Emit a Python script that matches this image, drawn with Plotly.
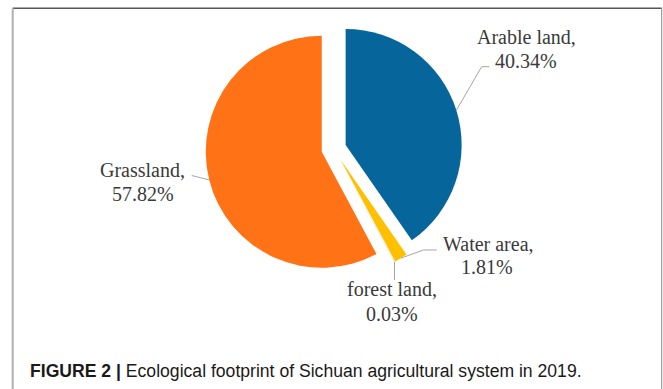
import math
import plotly.graph_objects as go

# Ecological footprint shares (%) of Sichuan's agricultural system, 2019
categories = ["Arable land", "Water area", "forest land", "Grassland"]
shares = [40.34, 1.81, 0.03, 57.82]
slice_colors = ["#06659b", "#ffc000", "#a5a5a5", "#ff7316"]
pulls = [0.107, 0.107, 0.107, 0.107]

W, H = 663, 389
# pie placement in pixels (centre, radius of the un-pulled disc)
cx, cy, r = 333.8, 148.7, 116.0
maxpull = max(pulls)
half = r * (1 + maxpull)


def px(x):
    return x / W


def py(y):
    return 1 - y / H


fig = go.Figure()
fig.add_trace(go.Pie(
    labels=categories,
    values=shares,
    sort=False,
    direction="clockwise",
    rotation=0,
    pull=pulls,
    marker=dict(colors=slice_colors, line=dict(width=0)),
    textinfo="none",
    hoverinfo="label+percent",
    showlegend=False,
    domain=dict(x=[px(cx - half), px(cx + half)],
                y=[py(cy + half), py(cy - half)]),
))

# mid-angle of each slice, clockwise from 12 o'clock
total = sum(shares)
mids = []
acc = 0.0
for v in shares:
    mids.append((acc + v / 2) / total * 360)
    acc += v


def edge_point(i):
    a = math.radians(mids[i])
    d = r * (1 + pulls[i])
    return cx + d * math.sin(a), cy - d * math.cos(a)


# label text positions (pixel centres of each text line)
label_pos = {
    "Arable land": (526, 37, 526, 60.5),
    "Water area": (488, 244, 487, 267),
    "forest land": (392, 289, 392, 314),
    "Grassland": (142.5, 170, 143, 194),
}
# elbow points of the leader lines
leader_tail = {
    "Arable land": [(481.7, 66.7), (489.3, 66.7)],
    "Water area": [(423.3, 250.0), (436.7, 250.0)],
    "forest land": None,
    "Grassland": [(191.7, 175.5)],
}

serif = dict(family="Liberation Serif, Times New Roman, serif", size=20, color="#3a3a3a")
annotations = []
shapes = []
for i, name in enumerate(categories):
    x1, y1, x2, y2 = label_pos[name]
    annotations.append(dict(text=name + ",", x=px(x1), y=py(y1), xref="paper", yref="paper",
                            xanchor="center", yanchor="middle", showarrow=False, font=serif))
    annotations.append(dict(text=f"{shares[i]:.2f}%", x=px(x2), y=py(y2), xref="paper", yref="paper",
                            xanchor="center", yanchor="middle", showarrow=False, font=serif))
    ex, ey = edge_point(i)
    tail = leader_tail[name]
    if tail is None:
        tail = [(ex, 280.0)]
    pts = [(ex, ey)] + tail
    path = "M " + " L ".join(f"{px(a):.5f},{py(b):.5f}" for a, b in pts)
    shapes.append(dict(type="path", path=path, xref="paper", yref="paper",
                       line=dict(color="#a6a6a6", width=1)))

# frame around the chart panel
shapes += [
    dict(type="line", xref="paper", yref="paper", x0=px(12.7), x1=px(661.7), y0=py(8.3), y1=py(8.3),
         line=dict(color="#555555", width=1.5)),
    dict(type="line", xref="paper", yref="paper", x0=px(12.7), x1=px(12.7), y0=py(8.3), y1=0,
         line=dict(color="#b0b0b0", width=2)),
    dict(type="line", xref="paper", yref="paper", x0=px(661.7), x1=px(661.7), y0=py(8.3), y1=0,
         line=dict(color="#8a8a8a", width=1)),
]

# figure caption
annotations.append(dict(
    text="<b>FIGURE 2 |</b> Ecological footprint of Sichuan agricultural system in 2019.",
    x=px(28), y=py(370.5), xref="paper", yref="paper", xanchor="left", yanchor="middle",
    showarrow=False, font=dict(family="Liberation Sans, Arial, sans-serif", size=17.6, color="#1a1a1a"),
))

fig.update_layout(
    width=W, height=H,
    margin=dict(l=0, r=0, t=0, b=0),
    paper_bgcolor="white",
    plot_bgcolor="white",
    annotations=annotations,
    shapes=shapes,
)

fig.write_html("out.html")
